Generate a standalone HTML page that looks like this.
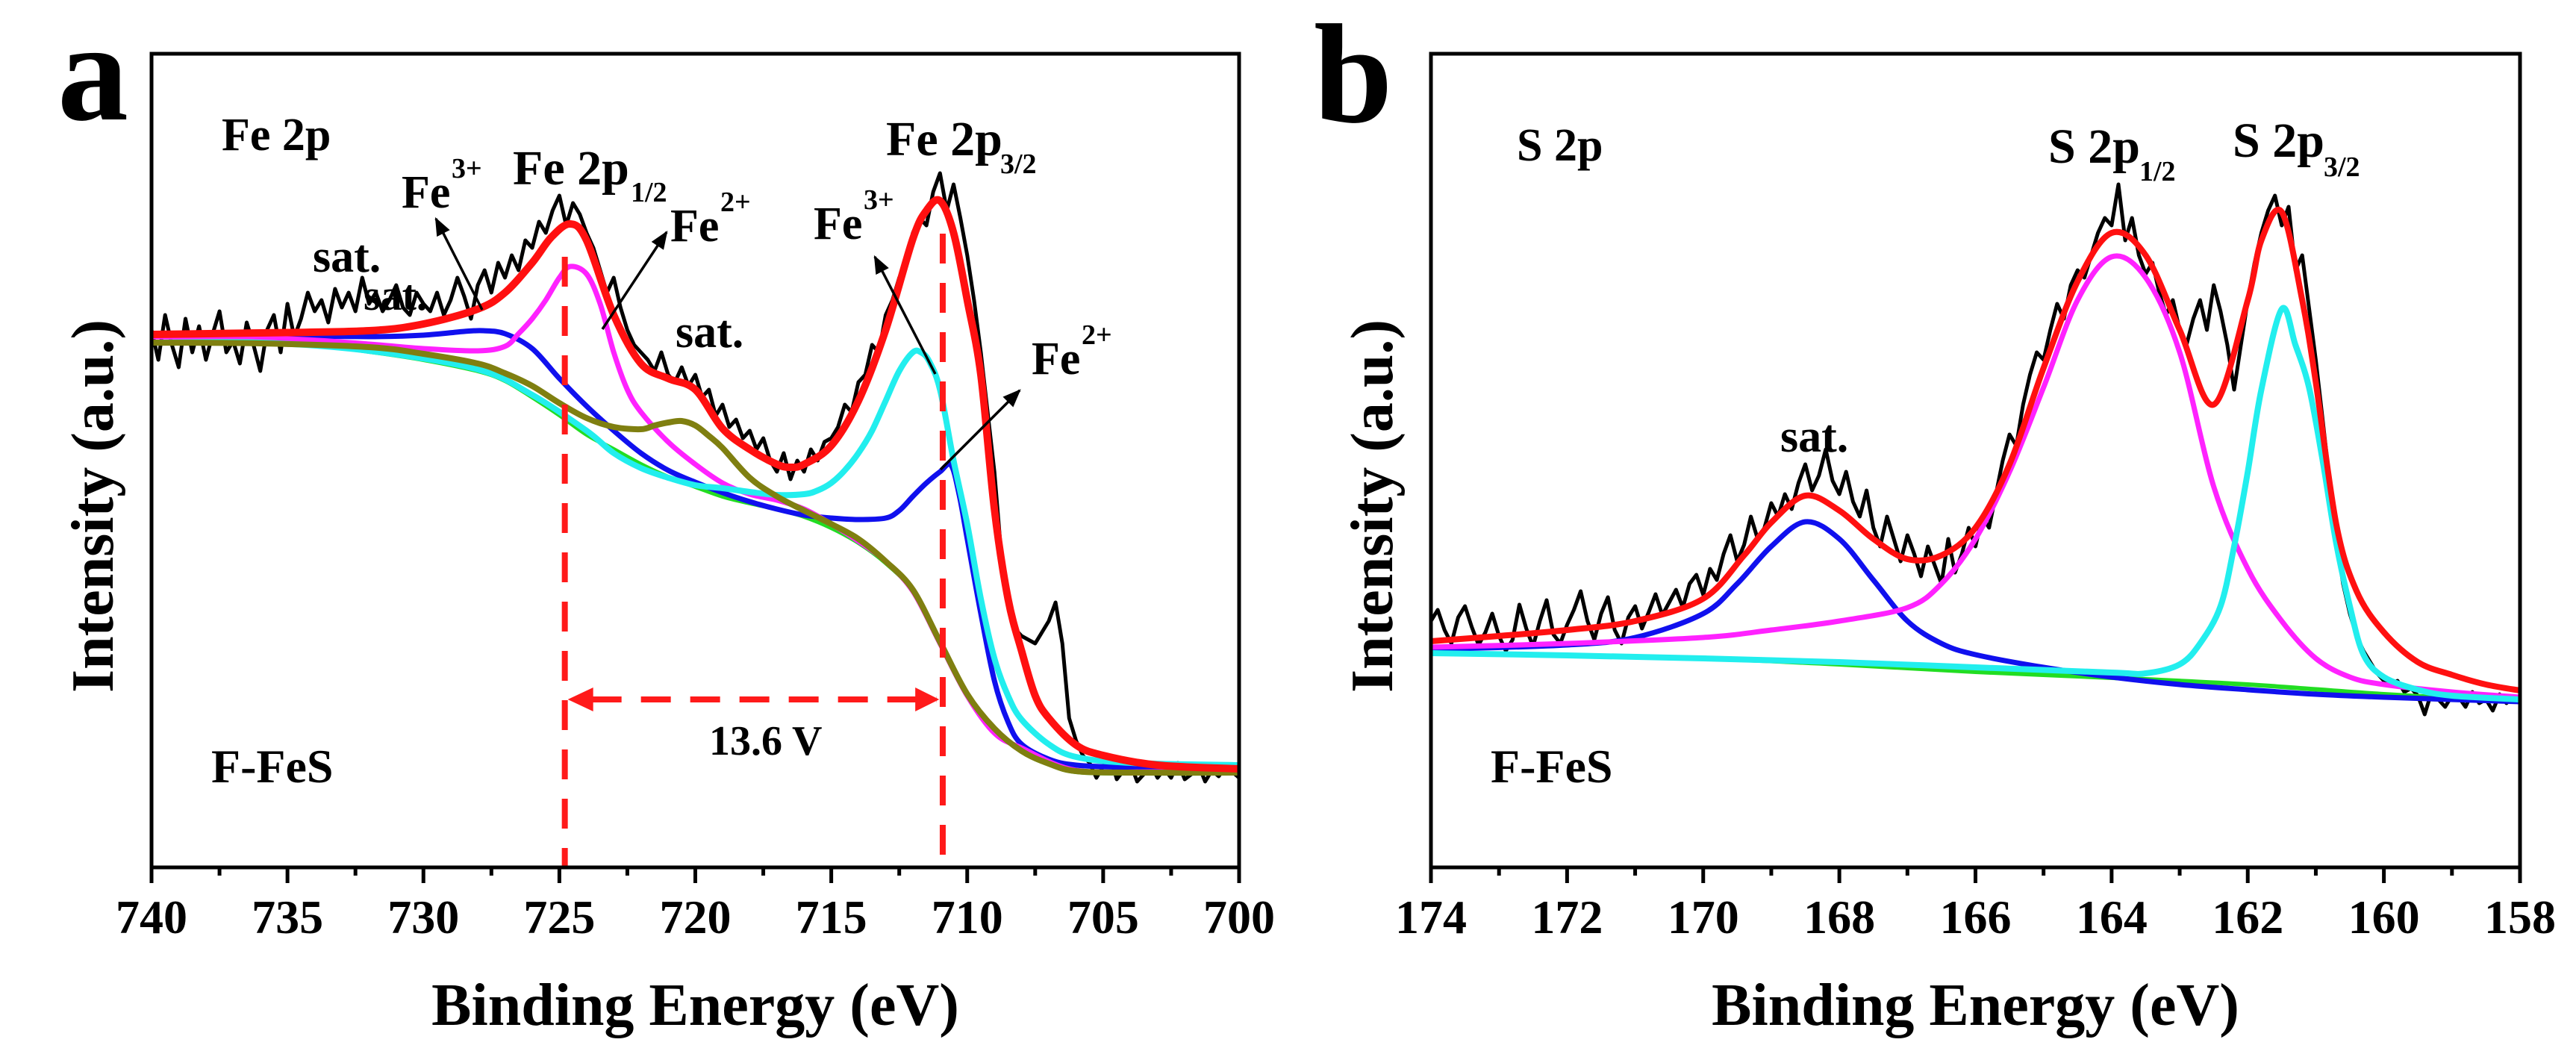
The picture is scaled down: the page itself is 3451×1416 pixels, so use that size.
<!DOCTYPE html>
<html><head><meta charset="utf-8">
<style>
html,body{margin:0;padding:0;background:#fff;}
svg{display:block;font-family:"Liberation Serif","Times New Roman",serif;font-weight:bold;}
</style></head>
<body>
<svg id="fig" width="3451" height="1416" viewBox="0 0 3451 1416" xmlns="http://www.w3.org/2000/svg">
<defs>
<clipPath id="clipA"><rect x="203" y="72" width="1457" height="1090"/></clipPath>
<clipPath id="clipB"><rect x="1917" y="72" width="1459" height="1090"/></clipPath>
<marker id="arrBlack" viewBox="0 0 10 10" refX="9" refY="5" markerWidth="7" markerHeight="7" orient="auto"><path d="M0,1 L10,5 L0,9 z" fill="#000"/></marker>
<marker id="arrRed" viewBox="0 0 10 10" refX="9" refY="5" markerWidth="4" markerHeight="4" orient="auto"><path d="M0,0 L10,5 L0,10 z" fill="#ff1a1a"/></marker>
</defs>
<g id="panelA"></g>
<g id="panelB"></g>
</svg>
<script>
// ---------- Panel a data (Fe 2p) ----------
const aBlackStart = 740, aBlackStep = -0.25;
const aBlack = [720,680,740,700,670,735,690,725,680,715,745,690,705,675,730,700,665,
720,740,690,755,710,735,770,745,760,730,775,750,
770,745,790,755,770,745,760,780,750,740,770,755,
745,770,740,760,790,765,735,780,800,770,810,790,
820,800,840,830,865,850,880,900,860,890,875,850,
830,800,770,790,750,720,700,690,680,665,690,660,
650,670,645,660,630,640,605,620,590,600,575,585,
560,575,545,530,555,520,545,530,560,545,570,575,
590,620,610,650,660,700,690,740,760,790,810,850,
870,860,905,930,880,915,870,820,760,690,610,530,
420,350,320,310,305,300,315,330,355,300,200,170,
150,140,120,135,150,118,130,140,115,125,138,120,
132,120,140,118,125,138,115,130,122,135,128,120];
const aRedE = [740,736,732,730,728,727,726,725.3,724.6,724,723,722,721,720,719,718,717,716.5,716,715,714,713,712,711.5,711,710.5,710,709.5,709,708.5,708,707.5,707,706,705,703,700];
const aRedV = [714,716,719,728,748,770,810,844,862,840,740,675,655,640,588,560,540,536,540,565,625,720,842,880,893,850,760,660,480,360,290,230,200,164,150,137,132];
const aMagE = [740,735,732,730,728,727,726.5,726,725.5,725,724.6,724,723.5,723,722.5,722,721,720,719,718,717,716,715,714,713,712,711,710,709,708,706,703,700];
const aMagV = [711,708,701,695,692,698,715,735,760,790,805,795,755,690,640,610,570,540,515,500,492,480,460,437,410,370,300,230,180,160,130,128,127];
const aBgE = [740,736,734,732,730,728,727,726,725,724,723,722,721,720,719,718,717,716,715,714,713,712,711,710,709,708,707,706,704,700];
const aBgV = [703,703,700,691,680,665,652,630,606,580,560,540,523,510,497,488,480,470,455,435,408,370,300,230,185,155,138,128,126,126];
const aOlvE = [740,736,732,730,728,727,726,725,724,723,722,721.5,721,720.5,720,719.5,719,718,717,716,715,714,713,712,711,710,709,708,707,706,704,700];
const aOlvV = [703,702,697,688,675,662,645,622,602,590,587,592,596,598,592,578,562,522,497,478,460,440,410,372,302,232,186,156,139,129,127,127];
const aBlueE = [740,736,732,730,728.5,727.8,727,726,725,724,723,722,721,720,719,718,717,716,715,714,713,712.5,712,711.5,711,710.6,710.3,710,709.5,709,708.5,708,707,706,704,700];
const aBlueV = [711,712,711,713,718,719,715,695,655,618,585,555,532,516,502,490,480,472,468,466,468,478,497,515,530,539,500,440,340,250,195,165,145,137,134,132];
const aCyanE = [740,736,732,728,726,724,723,722,721,720,719,718,717,716,715.5,715,714.5,714,713.5,713,712.5,712,711.7,711.4,711,710.5,710,709.5,709,708.5,708,707,706,704,700];
const aCyanV = [703,703,692,667,633,585,555,535,522,512,508,503,499,500,505,515,532,555,585,625,665,690,690,678,640,545,460,360,280,230,198,165,148,140,137];
const aTicksMajor = [740,735,730,725,720,715,710,705,700];
const aTicksMinor = [737.5,732.5,727.5,722.5,717.5,712.5,707.5,702.5];
const aPeakLines = [724.8, 710.9];

// ---------- Panel b data (S 2p) ----------
const bBlackStart = 174, bBlackStep = -0.1;
const bBlack = [330,345,318,300,335,350,322,298,315,340,310,290,305,352,320,296,330,358,312,300,325,
345,370,330,305,340,362,318,300,335,350,
320,342,366,338,355,372,348,380,392,365,
400,385,420,445,410,432,470,440,455,488,
470,500,480,515,540,505,525,560,518,500,
530,490,470,505,455,430,470,440,410,445,
420,390,430,405,380,440,395,420,455,430,
470,455,500,545,580,565,620,660,690,680,
720,755,735,780,800,790,820,850,870,860,
915,840,870,820,795,810,770,740,760,720,
700,735,760,720,780,745,700,640,700,760,
810,850,880,900,860,885,800,820,750,680,
600,520,440,380,340,310,290,275,260,250,
245,250,235,240,230,205,235,225,215,230,
228,215,235,220,225,210,232,220,228,225];
const bRedE = [174,173,172,171,170,169.4,169,168.5,168,167.5,167,166.5,166,165.5,165,164.5,164,163.5,163,162.5,162,161.8,161.5,161.2,161,160.7,160.4,160,159.5,159,158.5,158];
const bRedV = [303,310,318,330,360,418,462,498,478,440,413,418,455,540,669,785,850,820,720,620,760,840,878,760,650,460,370,315,275,258,245,237];
const bMagE = [174,172,170,169,168,167,166.5,166,165.5,165,164.5,164,163.5,163,162.5,162,161.5,161,160.5,160,159,158];
const bMagV = [295,300,308,318,330,348,380,440,530,643,760,818,790,690,510,400,330,280,255,245,235,228];
const bBlueE = [174,172,171,170,169.5,169,168.5,168,167.5,167,166.5,166,165,164,163,162,161,160,158];
const bBlueV = [292,298,308,340,380,430,463,440,385,330,300,285,268,255,245,238,232,228,222];
const bCyanE = [174,172,170,168,166,164,163.5,163,162.7,162.4,162.2,162,161.8,161.5,161.3,161.1,160.9,160.7,160.5,160.3,160,159.5,159,158];
const bCyanV = [287,284,280,275,268,261,260,272,300,350,430,530,640,748,700,643,545,434,350,285,255,238,230,225];
const bBgE = [174,172,170,168,166,164,162,160,158];
const bBgV = [287,284,280,272,262,254,245,232,222];
const bTicksMajor = [174,172,170,168,166,164,162,160,158];
const bTicksMinor = [173,171,169,167,165,163,161,159];

// ---------- helpers ----------
const NS = "http://www.w3.org/2000/svg";
const Y0 = 1162, YTOP = 72, VMAX = 1090;
function yScale(v){ return Y0 - v * (Y0 - YTOP) / VMAX; }
function makeX(e0, e1, x0, x1){ return e => x0 + (e0 - e) * (x1 - x0) / (e0 - e1); }
const xA = makeX(740, 700, 203, 1660);
const xB = makeX(174, 158, 1917, 3376);
function mk(tag, attrs, parent){
  const el = document.createElementNS(NS, tag);
  for (const k in attrs) el.setAttribute(k, attrs[k]);
  parent.appendChild(el);
  return el;
}
function smoothPath(pts){
  let d = "M" + pts[0][0].toFixed(1) + "," + pts[0][1].toFixed(1);
  for (let i = 0; i < pts.length - 1; i++){
    const p0 = pts[Math.max(0, i-1)], p1 = pts[i], p2 = pts[i+1], p3 = pts[Math.min(pts.length-1, i+2)];
    const c1x = p1[0] + (p2[0]-p0[0])/6, c1y = p1[1] + (p2[1]-p0[1])/6;
    const c2x = p2[0] - (p3[0]-p1[0])/6, c2y = p2[1] - (p3[1]-p1[1])/6;
    d += " C" + c1x.toFixed(1)+","+c1y.toFixed(1)+" "+c2x.toFixed(1)+","+c2y.toFixed(1)+" "+p2[0].toFixed(1)+","+p2[1].toFixed(1);
  }
  return d;
}
function linePath(pts){ return "M" + pts.map(p => p[0].toFixed(1)+","+p[1].toFixed(1)).join(" L"); }
function drawCurve(g, xs, E, V, color, w, name){
  const pts = E.map((e,i) => [xs(e), yScale(V[i])]);
  const p = mk("path", {d: smoothPath(pts), fill:"none", stroke:color, "stroke-width":w, "stroke-linejoin":"round", "stroke-linecap":"round"}, g);
  
  
}
function drawData(g, xs, start, step, vals, name){
  const pts = vals.map((v,i) => [xs(start + i*step), yScale(v)]);
  const p = mk("path", {d: linePath(pts), fill:"none", stroke:"#000", "stroke-width":5, "stroke-linejoin":"round"}, g);
  
  
}
function text(parent, x, y, str, size, name, anchor){
  const t = mk("text", {x:x, y:y, "font-size":size, fill:"#000"}, parent);
  if (anchor) t.setAttribute("text-anchor", anchor);
  t.textContent = str;
  
  
  return t;
}
function axes(g, xs, x0, x1, majors, minors, prefix){
  const fr = mk("rect", {x:x0, y:YTOP, width:x1-x0, height:Y0-YTOP, fill:"none", stroke:"#000", "stroke-width":5}, g);
  
  
  majors.forEach(e => {
    const l = mk("line", {x1:xs(e), x2:xs(e), y1:Y0, y2:Y0+21, stroke:"#000", "stroke-width":5}, g);
    
    
    text(g, xs(e), 1250, String(e), 64, prefix + '-x-tick-label', "middle");
  });
  minors.forEach(e => {
    const l = mk("line", {x1:xs(e), x2:xs(e), y1:Y0, y2:Y0+11, stroke:"#000", "stroke-width":5}, g);
    
    
  });
  text(g, (x0+x1)/2, 1373, "Binding Energy (eV)", 80, prefix + '-x-axis-title', "middle");
  const yl = text(g, 0, 0, "Intensity (a.u.)", 80, prefix + '-y-axis-title', "middle");
  yl.setAttribute("transform", "translate(" + (x0-52) + ",678) rotate(-90)");
}
function arrow(g, x1, y1, x2, y2, name){
  const l = mk("line", {x1:x1, y1:y1, x2:x2, y2:y2, stroke:"#000", "stroke-width":3.5, "marker-end":"url(#arrBlack)"}, g);
  
  
}
function labelSup(g, x, y, base, sup, name){
  text(g, x, y, base, 62, name);
  text(g, x + 67, y - 40, sup, 38, name + '-superscript');
}

// ---------- Panel a ----------
const gA = document.getElementById("panelA");
text(gA, 77, 160, "a", 190, "panel-a-letter");
text(gA, 487, 415, "sat.", 58, "sat-label-a-hidden");
const cA = mk("g", {"clip-path":"url(#clipA)"}, gA);


drawData(cA, xA, aBlackStart, aBlackStep, aBlack, "fe2p-raw-data");
drawCurve(cA, xA, aBgE, aBgV, "#22dd22", 6, "fe2p-background");
drawCurve(cA, xA, aBlueE, aBlueV, "#1010ee", 7, "fe2p-fe2plus-component");
drawCurve(cA, xA, aMagE, aMagV, "#ff22ff", 7, "fe2p-fe2plus-1-2-component");
drawCurve(cA, xA, aCyanE, aCyanV, "#22eeee", 8, "fe2p-fe3plus-3-2-component");
drawCurve(cA, xA, aOlvE, aOlvV, "#7f7f10", 8, "fe2p-satellite-component");
drawCurve(cA, xA, aRedE, aRedV, "#ff1010", 10, "fe2p-envelope-fit");
const dashTops = [344, 313];
aPeakLines.forEach((e,i) => {
  const l = mk("line", {x1:xA(e), x2:xA(e), y1:dashTops[i], y2:Y0, stroke:"#ff1a1a", "stroke-width":8, "stroke-dasharray":"40 26"}, gA);
  
  
});
const hArr = mk("line", {x1:xA(aPeakLines[0])+36, x2:xA(aPeakLines[1])-8, y1:937, y2:937, stroke:"#ff1a1a", "stroke-width":8, "stroke-dasharray":"40 26", "marker-end":"url(#arrRed)"}, gA);


const hHead = mk("path", {d:"M"+(xA(aPeakLines[0])+4)+",937 l34,-16 l0,32 z", fill:"#ff1a1a"}, gA);


text(gA, 950, 1011, "13.6 V", 56, "splitting-value-label");
axes(gA, xA, 203, 1660, aTicksMajor, aTicksMinor, "panel-a");
text(gA, 297, 201, "Fe 2p", 62, "fe2p-region-label");
text(gA, 283, 1048, "F-FeS", 64, "sample-label-a");
text(gA, 419, 364, "sat.", 62, "sat-label-a-left");
text(gA, 905, 465, "sat.", 62, "sat-label-a-middle");
labelSup(gA, 538, 278, "Fe", "3+", "fe3plus-label-left");
text(gA, 687, 247, "Fe 2p", 66, "fe2p-1-2-label");
text(gA, 845, 270, "1/2", 38, "fe2p-1-2-subscript");
labelSup(gA, 898, 323, "Fe", "2+", "fe2plus-label-left");
text(gA, 1187, 208, "Fe 2p", 66, "fe2p-3-2-label");
text(gA, 1340, 232, "3/2", 38, "fe2p-3-2-subscript");
labelSup(gA, 1090, 320, "Fe", "3+", "fe3plus-label-right");
labelSup(gA, 1382, 501, "Fe", "2+", "fe2plus-label-right");
arrow(gA, 646, 415, 584, 293, "fe3plus-arrow-left");
arrow(gA, 807, 441, 893, 311, "fe2plus-arrow-left");
arrow(gA, 1253, 501, 1172, 344, "fe3plus-arrow-right");
arrow(gA, 1260, 629, 1366, 523, "fe2plus-arrow-right");

// ---------- Panel b ----------
const gB = document.getElementById("panelB");
text(gB, 1760, 163, "b", 190, "panel-b-letter");
const cB = mk("g", {"clip-path":"url(#clipB)"}, gB);


drawData(cB, xB, bBlackStart, bBlackStep, bBlack, "s2p-raw-data");
drawCurve(cB, xB, bBgE, bBgV, "#22dd22", 6, "s2p-background");
drawCurve(cB, xB, bBlueE, bBlueV, "#1010ee", 7, "s2p-satellite-component");
drawCurve(cB, xB, bMagE, bMagV, "#ff22ff", 7, "s2p-1-2-component");
drawCurve(cB, xB, bCyanE, bCyanV, "#22eeee", 8, "s2p-3-2-component");
drawCurve(cB, xB, bRedE, bRedV, "#ff1010", 8, "s2p-envelope-fit");
axes(gB, xB, 1917, 3376, bTicksMajor, bTicksMinor, "panel-b");
text(gB, 2032, 215, "S 2p", 62, "s2p-region-label");
text(gB, 1997, 1048, "F-FeS", 64, "sample-label-b");
text(gB, 2385, 605, "sat.", 62, "sat-label-b");
text(gB, 2744, 218, "S 2p", 66, "s2p-1-2-label");
text(gB, 2866, 242, "1/2", 38, "s2p-1-2-subscript");
text(gB, 2991, 210, "S 2p", 66, "s2p-3-2-label");
text(gB, 3113, 236, "3/2", 38, "s2p-3-2-subscript");
</script>
</body></html>
